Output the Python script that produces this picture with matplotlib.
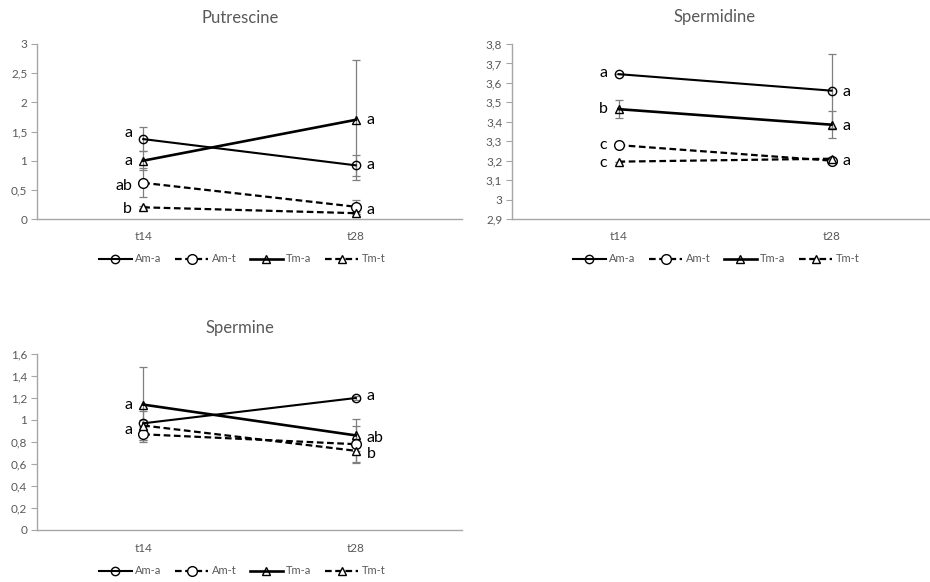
import matplotlib
matplotlib.use("Agg")
import matplotlib.pyplot as plt
from matplotlib.ticker import FixedLocator, FuncFormatter

plt.rcParams['font.family'] = ['Lato', 'DejaVu Sans']

categories = ['t14', 't28']
series_names = ['Am-a', 'Am-t', 'Tm-a', 'Tm-t']

# Putrescine
put_am_a = [1.37, 0.92]
put_am_t = [0.62, 0.21]
put_tm_a = [1.00, 1.70]
put_tm_t = [0.20, 0.10]
put_err_am_a = [0.21, 0.18]
put_err_am_t = [0.25, 0.12]
put_err_tm_a = [0.16, 1.03]
put_err_tm_t = [0.03, 0.02]
put_yticks = [0, 0.5, 1, 1.5, 2, 2.5, 3]
put_letters = [('t14', 1.47, 'a'), ('t14', 1.00, 'a'), ('t14', 0.57, 'ab'), ('t14', 0.17, 'b'),
               ('t28', 1.70, 'a'), ('t28', 0.92, 'a'), ('t28', 0.15, 'a')]

# Spermidine
spd_am_a = [3.645, 3.56]
spd_am_t = [3.28, 3.20]
spd_tm_a = [3.465, 3.385]
spd_tm_t = [3.195, 3.21]
spd_err_am_a = [0.0, 0.19]
spd_err_am_t = [0.0, 0.0]
spd_err_tm_a = [0.045, 0.07]
spd_err_tm_t = [0.0, 0.0]
spd_yticks = [2.9, 3.0, 3.1, 3.2, 3.3, 3.4, 3.5, 3.6, 3.7, 3.8]
spd_letters = [('t14', 3.65, 'a'), ('t14', 3.465, 'b'), ('t14', 3.28, 'c'), ('t14', 3.19, 'c'),
               ('t28', 3.555, 'a'), ('t28', 3.38, 'a'), ('t28', 3.20, 'a')]

# Spermine
spm_am_a = [0.97, 1.20]
spm_am_t = [0.87, 0.78]
spm_tm_a = [1.14, 0.86]
spm_tm_t = [0.95, 0.72]
spm_err_am_a = [0.03, 0.02]
spm_err_am_t = [0.05, 0.17]
spm_err_tm_a = [0.34, 0.145]
spm_err_tm_t = [0.13, 0.10]
spm_yticks = [0, 0.2, 0.4, 0.6, 0.8, 1.0, 1.2, 1.4, 1.6]
spm_letters = [('t14', 1.14, 'a'), ('t14', 0.91, 'a'),
               ('t28', 1.22, 'a'), ('t28', 0.84, 'ab'), ('t28', 0.69, 'b')]

W, H = 930, 582
fig = plt.figure(figsize=(W / 100, H / 100), dpi=100)

GRAY = '#595959'
AXC = '#a6a6a6'
ERRC = '#7f7f7f'

styles = [
    dict(ls='-', lw=1.5, marker='o', ms=6, mfc='none', mec='black', mew=1.0),
    dict(ls=(0, (3, 1.6)), lw=1.6, marker='o', ms=7, mfc='white', mec='black', mew=1.0),
    dict(ls='-', lw=1.9, marker='^', ms=6, mfc='none', mec='black', mew=1.0),
    dict(ls=(0, (3, 1.6)), lw=1.6, marker='^', ms=6, mfc='white', mec='black', mew=1.0),
]


def fmt(v, pos):
    s = f"{round(v, 2):g}"
    return s.replace('.', ',')


def panel(rect_px, title, title_px, legend_px, vals, errs, yticks, letters):
    x0, y0, x1, y1 = rect_px
    ax = fig.add_axes([x0 / W, 1 - y1 / H, (x1 - x0) / W, (y1 - y0) / H])
    xs = list(range(len(categories)))
    handles = []
    for name, v, e, st in zip(series_names, vals, errs, styles):
        ax.errorbar(xs, v, yerr=e, fmt='none', ecolor=ERRC, elinewidth=0.9,
                    capsize=3, capthick=0.9, zorder=2)
        h, = ax.plot(xs, v, color='black', label=name, zorder=3, **st)
        handles.append(h)
    ax.set_xlim(-0.5, 1.5)
    ax.set_ylim(yticks[0], yticks[-1])
    ax.yaxis.set_major_locator(FixedLocator(yticks))
    ax.yaxis.set_major_formatter(FuncFormatter(fmt))
    ax.set_xticks(xs)
    ax.set_xticklabels(categories)
    for s in ['top', 'right']:
        ax.spines[s].set_visible(False)
    for s in ['left', 'bottom']:
        ax.spines[s].set_color(AXC)
        ax.spines[s].set_linewidth(1.0)
    ax.tick_params(axis='y', direction='out', length=4, width=0.8, color=AXC,
                   labelcolor=GRAY, labelsize=8.5, pad=3)
    ax.tick_params(axis='x', length=0, labelcolor=GRAY, labelsize=8.5, pad=9)
    for cat, y, txt in letters:
        xi = categories.index(cat)
        if xi == 0:
            ax.annotate(txt, (xi, y), xytext=(-8, 0), textcoords='offset points',
                        ha='right', va='center', fontsize=11.5, color='black')
        else:
            ax.annotate(txt, (xi, y), xytext=(8, 0), textcoords='offset points',
                        ha='left', va='center', fontsize=11.5, color='black')
    fig.text(title_px[0] / W, 1 - title_px[1] / H, title, ha='center', va='center',
             fontsize=12, color=GRAY)
    fig.legend(handles=handles, loc='center', bbox_to_anchor=(legend_px[0] / W, 1 - legend_px[1] / H),
               ncol=4, frameon=False, fontsize=8, labelcolor=GRAY, handlelength=3.0,
               columnspacing=1.2, handletextpad=0.3)
    return ax


panel((37, 44, 462, 219), 'Putrescine', (240, 18), (242, 259),
      [put_am_a, put_am_t, put_tm_a, put_tm_t],
      [put_err_am_a, put_err_am_t, put_err_tm_a, put_err_tm_t], put_yticks, put_letters)

panel((512, 44, 938, 219), 'Spermidine', (715, 17), (716, 259),
      [spd_am_a, spd_am_t, spd_tm_a, spd_tm_t],
      [spd_err_am_a, spd_err_am_t, spd_err_tm_a, spd_err_tm_t], spd_yticks, spd_letters)

panel((37, 354, 462, 530), 'Spermine', (240, 328), (242, 571),
      [spm_am_a, spm_am_t, spm_tm_a, spm_tm_t],
      [spm_err_am_a, spm_err_am_t, spm_err_tm_a, spm_err_tm_t], spm_yticks, spm_letters)

fig.savefig('out.png', dpi=100)
